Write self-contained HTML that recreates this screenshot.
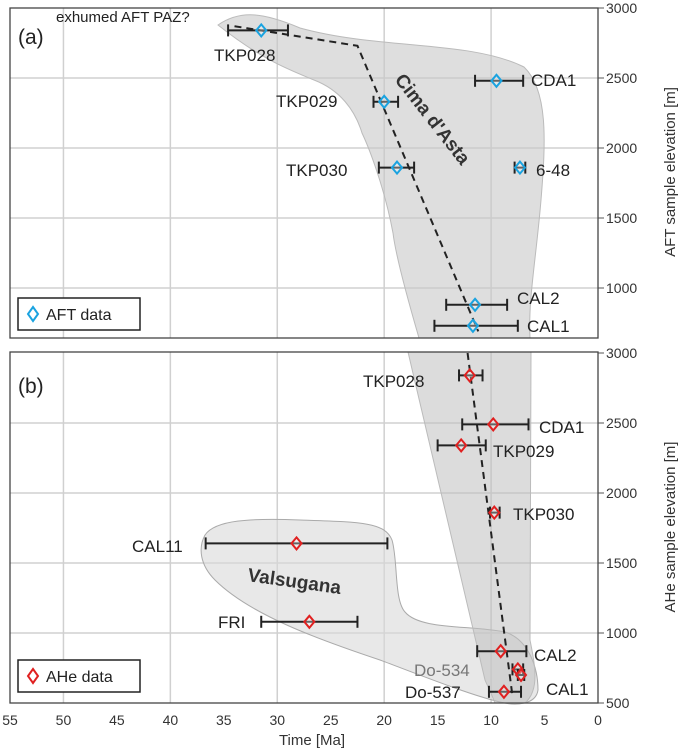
<!DOCTYPE html>
<html><head><meta charset="utf-8"><style>
body{margin:0;background:#fff;}
svg{display:block;font-family:"Liberation Sans",sans-serif;}
</style></head><body>
<svg id="c" width="685" height="753" xmlns="http://www.w3.org/2000/svg"></svg>
<script>
const xTicks=[55,50,45,40,35,30,25,20,15,10,5,0];
const yTicksA=[1000,1500,2000,2500,3000];
const yTicksB=[500,1000,1500,2000,2500,3000];
const aftNames=["TKP028","CDA1","TKP029","TKP030","6-48","CAL2","CAL1"];
const aftAge=[31.5,9.5,20,18.8,7.3,11.5,11.7];
const aftElev=[2840,2480,2330,1860,1860,880,730];
const aftLo=[29,7,18.7,17.2,6.8,8.5,7.5];
const aftHi=[34.6,11.5,21,20.5,7.8,14.2,15.3];
const aftTrendAge=[34,22.5,11.2];
const aftTrendElev=[2870,2730,690];
const aheNames=["TKP028","CDA1","TKP029","TKP030","CAL11","FRI","CAL2","Do-534","CAL1","Do-537"];
const aheAge=[12.0,9.8,12.8,9.7,28.2,27,9.1,7.5,7.2,8.8];
const aheElev=[2840,2490,2340,1860,1640,1080,870,740,700,580];
const aheLo=[10.8,6.5,10.5,9.2,19.7,22.5,6.7,7.0,6.9,7.2];
const aheHi=[13,12.7,15,10.1,36.7,31.5,11.3,8.0,7.5,10.2];
const aheTrendAge=[12.2,8.0];
const aheTrendElev=[3000,550];

const NS="http://www.w3.org/2000/svg";
const svg=document.getElementById('c');
const X0=10,X1=598;
const x=v=>X1-(v/55)*(X1-X0);
const yA=v=>8+(3000-v)*70/500;
const yB=v=>353+(3000-v)*70/500;
function mk(tag,attrs,parent){const e=document.createElementNS(NS,tag);for(const k in attrs)e.setAttribute(k,attrs[k]);(parent||svg).appendChild(e);return e;}
function txt(s,attrs){const e=mk('text',attrs);e.textContent=s;return e;}

function panel(top,bot,yf,ticks,label,title,tMid){
  const g=mk('g',{});
  
  
  mk('rect',{x:X0,y:top,width:X1-X0,height:bot-top,fill:'#fff'},g);
  for(let v=50;v>0;v-=10){const l=mk('line',{x1:x(v),x2:x(v),y1:top,y2:bot,stroke:'#d0d0d0','stroke-width':1.5},g);
    }
  ticks.forEach(t=>{const yy=yf(t);
    if(t<3000&&yy<bot){const l=mk('line',{x1:X0,x2:X1,y1:yy,y2:yy,stroke:'#d0d0d0','stroke-width':1.5},g);
      }
    mk('line',{x1:X1,x2:X1+6,y1:yy,y2:yy,stroke:'#555'},g);
    const tl=txt(String(t),{x:X1+8,y:yy+5,'font-size':14,fill:'#333'});
    
  });
  const tt=txt(title,{x:0,y:0,'font-size':15,fill:'#333','text-anchor':'middle',transform:`translate(675,${tMid}) rotate(-90)`});
  
  return g;
}
panel(8,338,yA,yTicksA,'(a)','AFT sample elevation [m]',172);
panel(352,703,yB,yTicksB,'(b)','AHe sample elevation [m]',527);

const e1=mk('path',{d:'M218,25 C240,10 262,12 300,28 C380,50 470,40 524,67 C548,90 546,140 541,200 C536,260 528,300 530,338 L419,338 C405,290 395,250 393,233 C385,190 370,150 362,133 C355,110 340,90 314,80 C290,70 262,60 218,25 Z',fill:'#c8c8c8','fill-opacity':0.6,stroke:'#bbb'});

const e2=mk('path',{d:'M205,535 C215,520 250,518 300,520 C360,522 385,522 392,540 C398,560 394,600 405,612 C420,630 470,625 505,632 C530,640 538,670 538,690 C536,705 515,706 500,702 C470,695 420,675 380,660 C320,640 250,615 215,580 C200,565 198,548 205,535 Z',fill:'#d8d8d8','fill-opacity':0.6,stroke:'#aaa'});

const e3=mk('path',{d:'M408,352 L531,352 L530,640 C535,665 540,690 525,703 L495,703 C490,690 487,685 485,680 Z',fill:'#c0c0c0','fill-opacity':0.55,stroke:'#bbb'});


[[8,338],[352,703]].forEach(([t,b])=>{const r=mk('rect',{x:X0,y:t,width:X1-X0,height:b-t,fill:'none',stroke:'#444','stroke-width':1.3});
  });

const tr1=mk('polyline',{points:aftTrendAge.map((a,i)=>x(a)+','+yA(aftTrendElev[i])).join(' '),fill:'none',stroke:'#222','stroke-width':2,'stroke-dasharray':'7,5'});

const tr2=mk('polyline',{points:aheTrendAge.map((a,i)=>x(a)+','+yB(aheTrendElev[i])).join(' '),fill:'none',stroke:'#222','stroke-width':2,'stroke-dasharray':'7,5'});


function points(names,age,elev,lo,hi,yf,color,pfx){
  names.forEach((n,i)=>{
    const yy=yf(elev[i]);const g=mk('g',{});
    
    
    mk('line',{x1:x(hi[i]),x2:x(lo[i]),y1:yy,y2:yy,stroke:'#222','stroke-width':2},g);
    mk('line',{x1:x(hi[i]),x2:x(hi[i]),y1:yy-6,y2:yy+6,stroke:'#222','stroke-width':2},g);
    mk('line',{x1:x(lo[i]),x2:x(lo[i]),y1:yy-6,y2:yy+6,stroke:'#222','stroke-width':2},g);
    const cx=x(age[i]);
    mk('path',{d:`M${cx},${yy-6} L${cx+5},${yy} L${cx},${yy+6} L${cx-5},${yy} Z`,fill:'#fff','fill-opacity':0.3,stroke:color,'stroke-width':2},g);
  });
}
points(aftNames,aftAge,aftElev,aftLo,aftHi,yA,'#1aa3e0','aft');
points(aheNames,aheAge,aheElev,aheLo,aheHi,yB,'#e02020','ahe');

const labs=[
 ['exhumed AFT PAZ?',56,22,15,'#222'],['TKP028',214,61,17,'#222'],['CDA1',531,86,17,'#222'],['TKP029',276,107,17,'#222'],
 ['TKP030',286,176,17,'#222'],['6-48',536,176,17,'#222'],['CAL2',517,304,17,'#222'],['CAL1',527,332,17,'#222'],
 ['TKP028',363,387,17,'#222'],['CDA1',539,433,17,'#222'],['TKP029',493,457,17,'#222'],['TKP030',513,520,17,'#222'],
 ['CAL11',132,552,17,'#222'],['FRI',218,628,17,'#222'],['CAL2',534,661,17,'#222'],['Do-534',414,676,17,'#777'],
 ['CAL1',546,695,17,'#222'],['Do-537',405,698,17,'#222']];
labs.forEach(l=>{const t=txt(l[0],{x:l[1],y:l[2],'font-size':l[3],fill:l[4]});
  });
const pa=txt('(a)',{x:18,y:44,'font-size':21,fill:'#222'});
const pb=txt('(b)',{x:18,y:393,'font-size':21,fill:'#222'});
const cn=txt("Cima d'Asta",{x:0,y:0,'font-size':19,'font-weight':'bold',fill:'#333',transform:'translate(394,80) rotate(52)'});

const vn=txt('Valsugana',{x:0,y:0,'font-size':19,'font-weight':'bold',fill:'#333',transform:'translate(247,581) rotate(8)'});


function legend(y,color,label,nm){const g=mk('g',{});
  mk('rect',{x:18,y:y,width:122,height:32,fill:'#fff',stroke:'#222','stroke-width':1.5},g);
  mk('path',{d:`M33,${y+9} L38,${y+16} L33,${y+23} L28,${y+16} Z`,fill:'none',stroke:color,'stroke-width':2},g);
  const t=mk('text',{x:46,y:y+22,'font-size':16,fill:'#222'},g);t.textContent=label;}
legend(298,'#1aa3e0','AFT data','legend-aft');
legend(660,'#e02020','AHe data','legend-ahe');

xTicks.forEach(t=>{const tl=txt(String(t),{x:x(t),y:725,'font-size':14,fill:'#333','text-anchor':'middle'});
  });
const xt=txt('Time [Ma]',{x:312,y:745,'font-size':15,fill:'#333','text-anchor':'middle'});

</script>
</body></html>
